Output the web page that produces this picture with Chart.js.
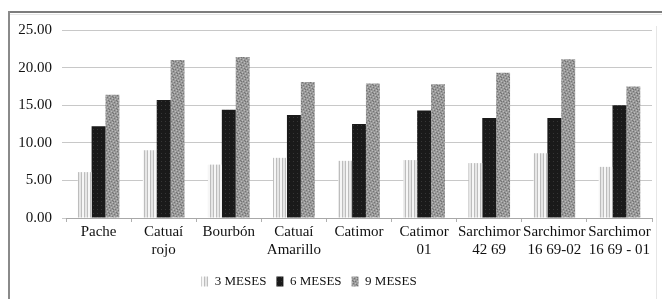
<!DOCTYPE html>
<html>
<head>
<meta charset="utf-8">
<script src="https://cdn.jsdelivr.net/npm/chart.js@4"></script>
<style>
  html, body { margin: 0; padding: 0; background: #fff; }
  #wrap { position: relative; width: 662px; height: 299px; overflow: hidden; }
  #c { position: absolute; left: 0; top: 0; }
  .ln { position: absolute; }
</style>
</head>
<body>
<div id="wrap">
  <canvas id="c" width="662" height="299"></canvas>
  <div class="ln" style="left:8px;top:11px;width:654px;height:2px;background:#7d7d7d"></div>
  <div class="ln" style="left:10px;top:14px;width:652px;height:1px;background:#e6e6e6"></div>
  <div class="ln" style="left:8px;top:11px;width:2px;height:288px;background:#8a8a8a"></div>
  <div class="ln" style="left:656px;top:26px;width:1px;height:273px;background:#e6e6e6"></div>
</div>
<script>
const categories = [
  ["Pache"], ["Catuaí", "rojo"], ["Bourbón"], ["Catuaí", "Amarillo"], ["Catimor"],
  ["Catimor", "01"], ["Sarchimor", "42 69"], ["Sarchimor", "16 69-02"], ["Sarchimor", "16 69 - 01"]
];
const seriesNames = ["3 MESES", "6 MESES", "9 MESES"];
const meses3 = [6.1, 9.0, 7.1, 8.0, 7.6, 7.7, 7.3, 8.6, 6.8];
const meses6 = [12.2, 15.7, 14.4, 13.7, 12.5, 14.3, 13.3, 13.3, 15.0];
const meses9 = [16.4, 21.0, 21.4, 18.1, 17.9, 17.8, 19.3, 21.1, 17.5];
const yTicks = [0, 5, 10, 15, 20, 25];

function makePattern(w, h, drawFn) {
  const cv = document.createElement('canvas');
  cv.width = w; cv.height = h;
  const g = cv.getContext('2d');
  drawFn(g);
  return document.getElementById('c').getContext('2d').createPattern(cv, 'repeat');
}
const pat3 = makePattern(6, 4, g => {
  g.fillStyle = '#e6e6e6'; g.fillRect(0, 0, 6, 4);
  g.fillStyle = '#bdbdbd'; g.fillRect(0, 0, 1, 4); g.fillRect(3, 0, 1, 4);
  g.fillStyle = '#f6f6f6'; g.fillRect(4, 0, 2, 4);
});
const pat6 = makePattern(4, 4, g => {
  g.fillStyle = '#1a1a1a'; g.fillRect(0, 0, 4, 4);
  g.fillStyle = '#363636'; g.fillRect(1, 1, 1, 1);
});
const pat9 = makePattern(8, 8, g => {
  g.fillStyle = '#999999'; g.fillRect(0, 0, 8, 8);
  g.fillStyle = '#747474';
  [[0,0],[3,1],[6,2],[1,3],[4,4],[7,5],[2,6],[5,7],[1,1],[5,5]].forEach(p => g.fillRect(p[0], p[1], 1, 1));
  g.fillStyle = '#bdbdbd';
  [[2,0],[5,1],[0,2],[3,3],[6,4],[1,5],[4,6],[7,7]].forEach(p => g.fillRect(p[0], p[1], 1, 1));
});

const shiftLegend = {
  id: 'shiftLegend',
  afterLayout(chart) {
    const l = chart.legend;
    if (l) { l.left -= 17; l.right -= 17; }
  }
};

const font = 'Liberation Serif, Times New Roman, serif';
new Chart(document.getElementById('c'), {
  type: 'bar',
  data: {
    labels: categories,
    datasets: [
      { label: seriesNames[0], data: meses3, backgroundColor: pat3, borderWidth: 0 },
      { label: seriesNames[1], data: meses6, backgroundColor: pat6, borderWidth: 0 },
      { label: seriesNames[2], data: meses9, backgroundColor: pat9, borderWidth: 0 }
    ]
  },
  options: {
    responsive: false,
    animation: false,
    layout: { padding: { left: 0, right: 10, top: 30, bottom: 1 } },
    datasets: { bar: { categoryPercentage: 0.64, barPercentage: 1.0 } },
    plugins: {
      tooltip: { enabled: false },
      legend: {
        position: 'bottom',
        labels: {
          color: '#111',
          font: { family: font, size: 13 },
          boxWidth: 7, boxHeight: 10, padding: 10
        }
      }
    },
    scales: {
      x: {
        afterFit(s) { s.height = 47; },
        grid: { display: true, drawOnChartArea: false, tickLength: 4, color: '#b0b0b0', offset: true },
        border: { display: true, color: '#a8a8a8', width: 1 },
        ticks: { color: '#111', font: { family: font, size: 15, lineHeight: 1.2 }, padding: 1, maxRotation: 0, autoSkip: false }
      },
      y: {
        min: 0, max: 25,
        afterFit(s) { s.width = 66; },
        afterBuildTicks(s) { s.ticks = yTicks.map(v => ({ value: v })); },
        grid: { color: '#c8c8c8', tickLength: 4, lineWidth: 1 },
        border: { display: false },
        ticks: {
          color: '#111', padding: 10,
          font: { family: font, size: 15 },
          callback: v => Number(v).toFixed(2)
        }
      }
    }
  },
  plugins: [shiftLegend]
});
</script>
</body>
</html>
